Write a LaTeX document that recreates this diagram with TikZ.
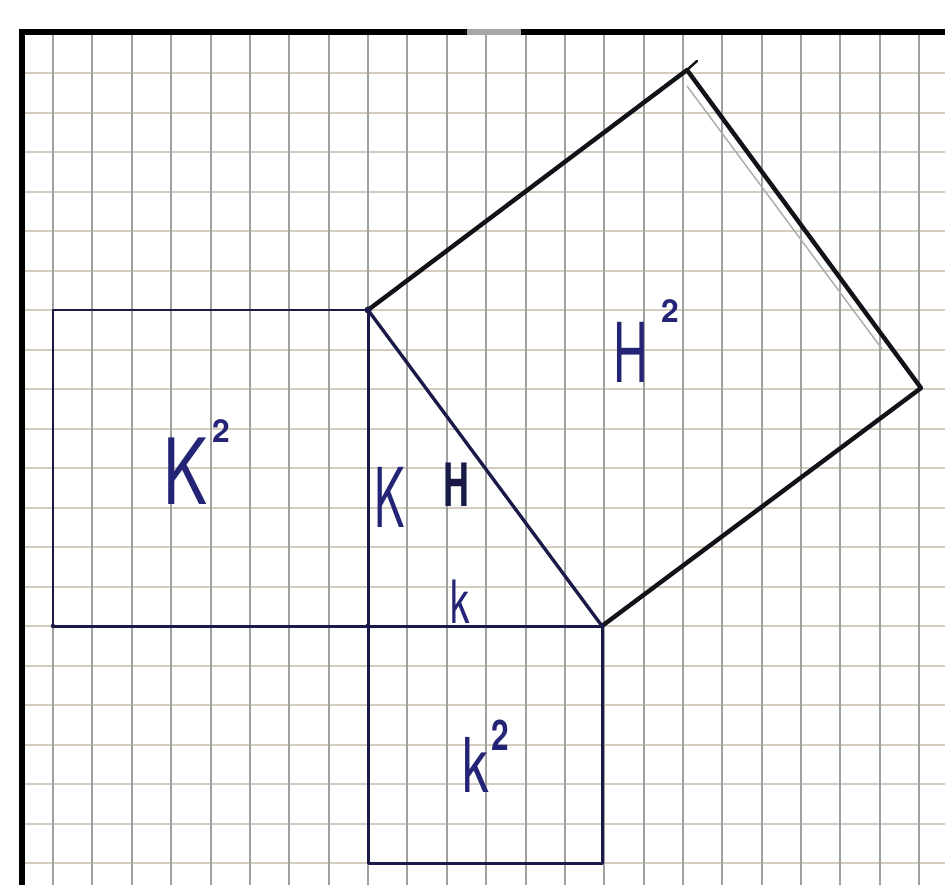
\documentclass[tikz,border=0pt]{standalone}
\usepackage{graphicx}
\usepackage{fontspec}
\setsansfont{TeX Gyre Heros}
\definecolor{ink}{RGB}{36,36,118}
\definecolor{pen}{RGB}{26,26,72}
\definecolor{dark}{RGB}{18,18,24}
\definecolor{vgrid}{RGB}{160,160,160}
\definecolor{hgrid}{RGB}{212,204,190}
\definecolor{faint}{RGB}{170,170,170}
\begin{document}
\begin{tikzpicture}[x=0.02cm,y=-0.02cm,
  gridv/.style={vgrid, line width=0.9pt},
  gridh/.style={hgrid, line width=1.0pt},
  frame/.style={black, line width=3pt},
  thinpen/.style={pen, line width=1.7pt, line join=round},
  thickpen/.style={dark, line width=2.5pt, line join=round, line cap=round},
  lab/.style={ink, inner sep=0pt, font=\sffamily},
  dot/.style={circle, fill=pen, inner sep=0pt, minimum size=4pt}]
\useasboundingbox (0,0) rectangle (945,885);
\fill[white] (0,0) rectangle (945,885);
% graph paper
\begin{scope}
\clip (22,32) rectangle (945,885);
\foreach \yy in {34,73,113,152,192,231,271,310,350,389,429,468,508,547,587,626,666,705,745,784,824,863}
  \draw[gridh] (22,\yy) -- (945,\yy);
\foreach \xx in {53,92,132,171,211,250,289,329,368,407,447,486,526,565,604,644,683,722,762,801,840,880,919}
  \draw[gridv] (\xx,32) -- (\xx,885);
\end{scope}
% frame
\coordinate (TL) at (22,32);
\coordinate (TR) at (945,32);
\coordinate (BL) at (22,885);
\coordinate (G1) at (467,32);
\coordinate (G2) at (521,32);
\draw[frame] (BL) -- (TL) -- (G1);
\draw[frame] (G2) -- (TR);
\draw[line width=3pt, black!35] (G1) -- (G2);
% corner points
\coordinate (C) at (368,626);
\coordinate (A) at (368,310);
\coordinate (B) at (602,626);
\coordinate (L1) at (53,626);
\coordinate (L2) at (53,310);
\coordinate (D1) at (368,863);
\coordinate (D2) at (602,863);
\coordinate (E) at (921,388);
\coordinate (F) at (687,70);
\coordinate (Ft) at (697,61);
\coordinate (P1) at (687,86);
\coordinate (P2) at (882,349);
% squares on the legs
\draw[thinpen] (A) -- (L2) -- (L1) -- (C) -- cycle;
\draw[thinpen] (C) -- (D1) -- (D2) -- (B) -- cycle;
% hypotenuse
\draw[pen, line width=1.9pt] (A) -- (B);
% square on the hypotenuse
\draw[thickpen] (A) -- (F) -- (E) -- (B);
\draw[dark, line width=1.4pt, line cap=round] (F) -- (Ft);
\draw[faint, line width=0.8pt] (P1) -- (P2);
% dots
\node[dot] (dA) at (A) {};
\node[dot, minimum size=3pt] (dC) at (C) {};
\node[dot, minimum size=3pt] (dB) at (B) {};
\node[dot, minimum size=2.5pt] (dL) at (L1) {};
% labels
\node[lab] (Kbig) at (185,471) {\fontsize{52}{52}\selectfont\scalebox{0.72}[1]{K}};
\node[lab] (Kbig2) at (221,431) {\fontsize{18}{18}\selectfont\bfseries 2};
\node[lab] (Kleg) at (390,497) {\fontsize{47}{47}\selectfont\scalebox{0.55}[1]{K}};
\node[lab, text=pen] (Hhyp) at (456,485) {\fontsize{34}{34}\selectfont\bfseries\scalebox{0.6}[1]{H}};
\node[lab] (kleg) at (460,602) {\fontsize{34}{34}\selectfont\scalebox{0.65}[1]{k}};
\node[lab] (ksq) at (476,765) {\fontsize{43}{43}\selectfont\scalebox{0.7}[1]{k}};
\node[lab] (ksq2) at (500,735) {\fontsize{24}{24}\selectfont\bfseries\scalebox{0.75}[1]{2}};
\node[lab] (Hsq) at (631,352) {\fontsize{47}{47}\selectfont\scalebox{0.58}[1]{H}};
\node[lab] (Hsq2) at (670,311) {\fontsize{18}{18}\selectfont\bfseries 2};
\end{tikzpicture}
\end{document}
